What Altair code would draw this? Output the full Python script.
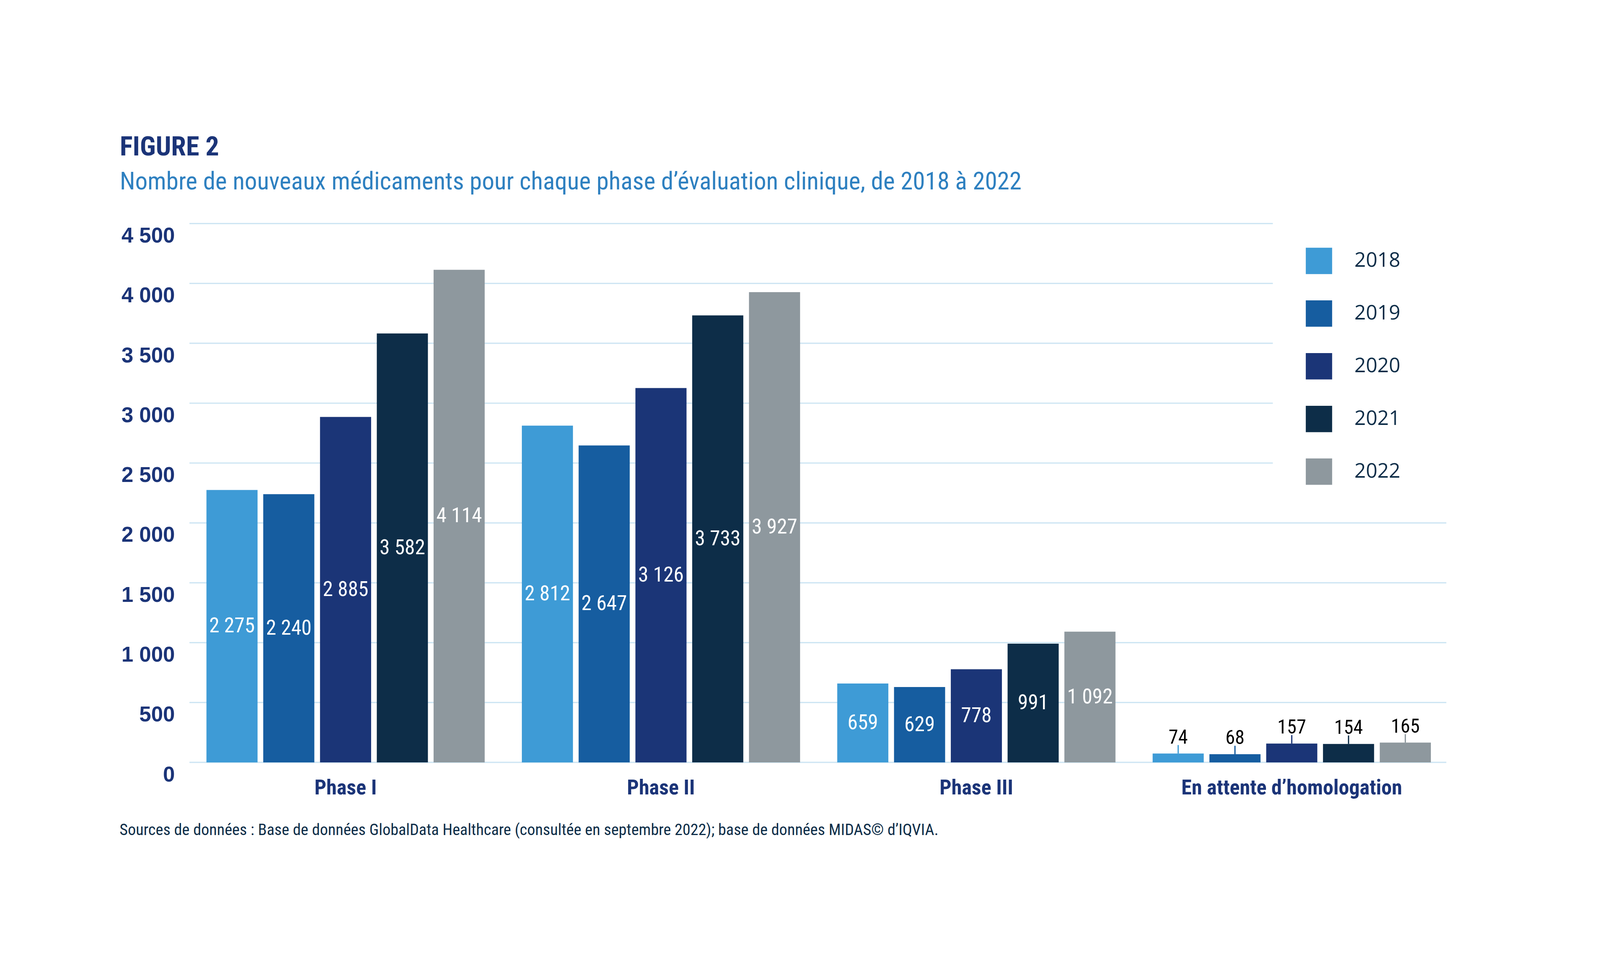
import altair as alt
import pandas as pd

# ---------------- data ----------------
phases = ["Phase I", "Phase II", "Phase III", "En attente d’homologation"]
years = ["2018", "2019", "2020", "2021", "2022"]
v2018 = [2275, 2812, 659, 74]
v2019 = [2240, 2647, 629, 68]
v2020 = [2885, 3126, 778, 157]
v2021 = [3582, 3733, 991, 154]
v2022 = [4114, 3927, 1092, 165]
y_ticks = [0, 500, 1000, 1500, 2000, 2500, 3000, 3500, 4000, 4500]
grid_full = [0, 500, 1000, 1500, 2000]
grid_short = [2500, 3000, 3500, 4000, 4500]
colors = ["#3E9BD6", "#165DA0", "#1B3577", "#0D2D48", "#8E989E"]

title_text = "FIGURE 2"
subtitle_text = "Nombre de nouveaux médicaments pour chaque phase d’évaluation clinique, de 2018 à 2022"
source_text = ("Sources de données : Base de données GlobalData Healthcare (consultée en septembre 2022); "
               "base de données MIDAS© d’IQVIA.")

rows = []
for yr, vals in zip(years, [v2018, v2019, v2020, v2021, v2022]):
    for ph, v in zip(phases, vals):
        rows.append({"phase": ph, "year": yr, "value": v,
                     "label": f"{v:,}".replace(",", " ")})
df = pd.DataFrame(rows)

# ---------------- styles ----------------
NARROW = "Liberation Sans Narrow, Arial Narrow, Roboto Condensed, DejaVu Sans Condensed, sans-serif"
WIDE = "Liberation Sans, Arial, sans-serif"
NAVY = "#1B3478"
DARK = "#0D2D48"
GRID = "#CDE5F3"

W, H = 4022, 1718

x_enc = alt.X("phase:N", sort=phases, title=None,
              scale=alt.Scale(paddingInner=0.1178, paddingOuter=0.0589),
              axis=alt.Axis(labelFont=NARROW, labelFontSize=67, labelFontWeight="bold",
                            labelColor=NAVY, labelAngle=0, labelPadding=49, labelLimit=3000,
                            domain=False, ticks=False, labelBaseline="top"))
xo_enc = alt.XOffset("year:N", sort=years,
                     scale=alt.Scale(paddingInner=0.1, paddingOuter=0))
y_scale = alt.Scale(domain=[0, 4500], nice=False, zero=True)
y_axis = alt.Axis(values=y_ticks, grid=False, domain=False, ticks=False,
                  labelFont=WIDE, labelFontSize=68, labelFontWeight="bold",
                  labelColor=NAVY, labelPadding=42, labelBaseline="top", labelOffset=6,
                  labelFlush=False, labelOverlap=False, labelBound=False, labelLimit=1000,
                  labelExpr="replace(format(datum.value, ','), ',', ' ')")
color_enc = alt.Color("year:N", sort=years,
                      scale=alt.Scale(domain=years, range=colors),
                      legend=alt.Legend(orient="none", legendX=3564, legendY=77, title=None,
                                        symbolType="square", symbolSize=7056,
                                        symbolStrokeWidth=0, symbolOpacity=1,
                                        labelFont="Open Sans", labelFontSize=64,
                                        labelColor=DARK, labelOffset=71, labelLimit=500,
                                        rowPadding=84, padding=0))

def y_val(field="value"):
    return alt.Y(f"{field}:Q", scale=y_scale, axis=y_axis, title=None)

base = alt.Chart(df)

grid_long = alt.Chart(pd.DataFrame({"value": grid_full})).mark_rule(
    color=GRID, strokeWidth=4).encode(
    y=y_val(), x=alt.value(5), x2=alt.value(4012))
grid_cut = alt.Chart(pd.DataFrame({"value": grid_short})).mark_rule(
    color=GRID, strokeWidth=4).encode(
    y=y_val(), x=alt.value(5), x2=alt.value(3459))

bars = base.mark_bar().encode(
    x=x_enc, xOffset=xo_enc, y=y_val(), color=color_enc)

last = phases[3]
inner = base.transform_filter(
    ~alt.FieldOneOfPredicate(field="phase", oneOf=[last])
).transform_calculate(value="datum.value / 2").mark_text(
    font=NARROW, fontSize=66, color="white", baseline="middle", align="center").encode(
    x=x_enc, xOffset=xo_enc, y=y_val(), text="label:N")

outer = base.transform_filter(
    alt.FieldOneOfPredicate(field="phase", oneOf=[last])
).mark_text(font=NARROW, fontSize=62, color="black", baseline="alphabetic",
            align="center", dy=-32).encode(
    x=x_enc, xOffset=xo_enc, y=y_val(), text="label:N")

leaders = base.transform_filter(
    alt.FieldOneOfPredicate(field="phase", oneOf=[last])
).mark_rule(strokeWidth=4, xOffset=40, yOffset=-27).encode(
    x=x_enc, xOffset=xo_enc,
    y=y_val(), y2=alt.Y2("value:Q"),
    color=alt.Color("year:N", sort=years, scale=alt.Scale(domain=years, range=colors), legend=None))

title = alt.Chart(pd.DataFrame({"t": [title_text]})).mark_text(
    align="left", baseline="alphabetic", font=NARROW, fontSize=86, fontWeight="bold",
    color=NAVY).encode(x=alt.value(-217), y=alt.value(-217), text="t:N")
subtitle = alt.Chart(pd.DataFrame({"t": [subtitle_text]})).mark_text(
    align="left", baseline="alphabetic", font=NARROW, fontSize=79,
    color="#2E80C0").encode(x=alt.value(-217), y=alt.value(-109), text="t:N")
source = alt.Chart(pd.DataFrame({"t": [source_text]})).mark_text(
    align="left", baseline="alphabetic", font=NARROW, fontSize=51,
    color=DARK).encode(x=alt.value(-218), y=alt.value(1950), text="t:N")

chart = alt.layer(grid_long, grid_cut, bars, inner, outer, leaders, title, subtitle, source).properties(
    width=W, height=H,
    autosize=alt.AutoSizeParams(type="none"),
    padding={"left": 589, "top": 399, "right": 470, "bottom": 360},
    background="white",
).configure_view(stroke=None)

chart.save("out.html", embed_options={"renderer": "svg", "actions": False})
